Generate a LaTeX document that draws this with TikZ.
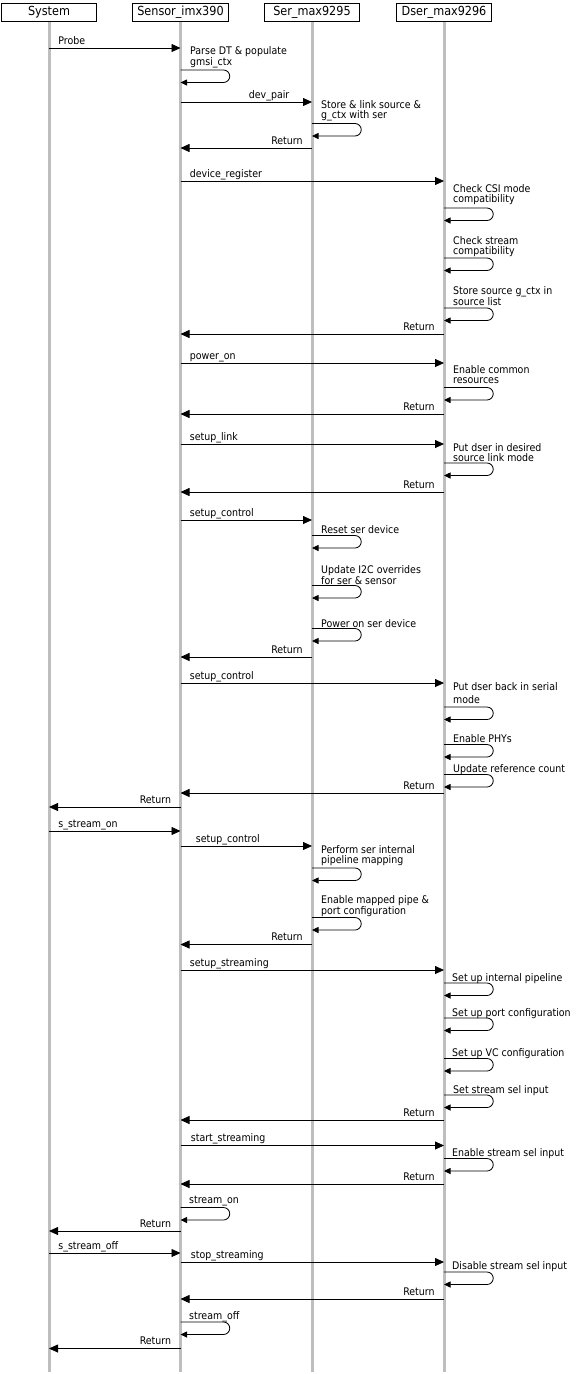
\documentclass[tikz,border=0pt]{standalone}
\usepackage{fontspec}
\setmainfont{DejaVu Sans Condensed}
\usetikzlibrary{arrows.meta}
\definecolor{Lgray}{RGB}{190,190,190}

\begin{document}
\begin{tikzpicture}[x=1pt,y=-1pt,
  head/.style={draw,line width=0.8pt,minimum width=95.5pt,minimum height=18pt,inner sep=0pt,font=\fontsize{12.5}{13}\selectfont},
  lifeline/.style={draw=Lgray,line width=3pt},
  call/.style={line width=0.8pt,-{Triangle[length=9pt,width=8pt]}},
  selfcall/.style={line width=0.8pt,-{Triangle[length=6.5pt,width=6pt]}},
  calltext/.style={anchor=base west,inner sep=0pt,xshift=9pt,yshift=4pt,font=\fontsize{10.5}{10}\selectfont},
  rettext/.style={anchor=base east,inner sep=0pt,xshift=-9pt,yshift=4pt,font=\fontsize{10.5}{10}\selectfont},
  selftext/.style={anchor=north west,inner sep=0pt,align=left,font=\fontsize{10.5}{10}\selectfont}]
\path[use as bounding box] (0,0) rectangle (577,1374);
% participants
\node[head] (sys) at (49,12.5) {System};
\node[head] (sen) at (180.5,12.5) {Sensor\_imx390};
\node[head] (ser) at (312,12.5) {Ser\_max9295};
\node[head] (dse) at (444,12.5) {Dser\_max9296};
\foreach \n in {sys,sen,ser,dse}
  \draw[lifeline] (\n.south) -- (\n |- 0,1372);
% probe
\draw[call] (sys |- 0,48) -- node[calltext,pos=0] (l1) {Probe} (sen |- 0,48);
\node[selftext] (s1) at (190,46.5) {Parse DT \& populate\\gmsi\_ctx};
\draw[selfcall] (sen |- 0,70) -- ++(43,0) arc[start angle=-90,end angle=90,radius=6.25] -- (sen |- 0,82.5);
\draw[call] (sen |- 0,102) -- node[calltext,pos=0,xshift=59pt] (l2) {dev\_pair} (ser |- 0,102);
\node[selftext] (s2) at (321,100.5) {Store \& link source \&\\g\_ctx with ser};
\draw[selfcall] (ser |- 0,123.5) -- ++(43,0) arc[start angle=-90,end angle=90,radius=6.25] -- (ser |- 0,136);
\draw[call] (ser |- 0,148) -- node[rettext,pos=0] (l3) {Return} (sen |- 0,148);
% device register
\draw[call] (sen |- 0,181) -- node[calltext,pos=0] (l4) {device\_register} (dse |- 0,181);
\node[selftext] (s3) at (453,184.5) {Check CSI mode\\compatibility};
\draw[selfcall] (dse |- 0,208) -- ++(43,0) arc[start angle=-90,end angle=90,radius=6.25] -- (dse |- 0,220.5);
\node[selftext] (s4) at (453,236) {Check stream\\compatibility};
\draw[selfcall] (dse |- 0,258) -- ++(43,0) arc[start angle=-90,end angle=90,radius=6.25] -- (dse |- 0,270.5);
\node[selftext] (s5) at (453,286) {Store source g\_ctx in\\source list};
\draw[selfcall] (dse |- 0,308) -- ++(43,0) arc[start angle=-90,end angle=90,radius=6.25] -- (dse |- 0,320.5);
\draw[call] (dse |- 0,334) -- node[rettext,pos=0] (l5) {Return} (sen |- 0,334);
% power on
\draw[call] (sen |- 0,363) -- node[calltext,pos=0] (l6) {power\_on} (dse |- 0,363);
\node[selftext] (s6) at (453,365) {Enable common\\resources};
\draw[selfcall] (dse |- 0,387.5) -- ++(43,0) arc[start angle=-90,end angle=90,radius=6.25] -- (dse |- 0,400);
\draw[call] (dse |- 0,414) -- node[rettext,pos=0] (l7) {Return} (sen |- 0,414);
% link
\draw[call] (sen |- 0,444) -- node[calltext,pos=0] (l8) {setup\_link} (dse |- 0,444);
\node[selftext] (s7) at (453,443) {Put dser in desired\\source link mode};
\draw[selfcall] (dse |- 0,463) -- ++(43,0) arc[start angle=-90,end angle=90,radius=6.25] -- (dse |- 0,475.5);
\draw[call] (dse |- 0,492) -- node[rettext,pos=0] (l9) {Return} (sen |- 0,492);
% control
\draw[call] (sen |- 0,520) -- node[calltext,pos=0] (l10) {setup\_control} (ser |- 0,520);
\node[selftext] (s8) at (321,525) {Reset ser device};
\draw[selfcall] (ser |- 0,535.5) -- ++(43,0) arc[start angle=-90,end angle=90,radius=6.25] -- (ser |- 0,548);
\node[selftext] (s9) at (321,565) {Update I2C overrides\\for ser \& sensor};
\draw[selfcall] (ser |- 0,585.5) -- ++(43,0) arc[start angle=-90,end angle=90,radius=6.25] -- (ser |- 0,598);
\node[selftext] (s10) at (321,619) {Power on ser device};
\draw[selfcall] (ser |- 0,628.5) -- ++(43,0) arc[start angle=-90,end angle=90,radius=6.25] -- (ser |- 0,641);
\draw[call] (ser |- 0,657) -- node[rettext,pos=0] (l11) {Return} (sen |- 0,657);
\draw[call] (sen |- 0,683) -- node[calltext,pos=0] (l12) {setup\_control} (dse |- 0,683);
\node[selftext] (s11) at (453,682.5) {Put dser back in serial\\[3pt]mode};
\draw[selfcall] (dse |- 0,707) -- ++(43,0) arc[start angle=-90,end angle=90,radius=6.25] -- (dse |- 0,719.5);
\node[selftext] (s12) at (453,734) {Enable PHYs};
\draw[selfcall] (dse |- 0,744.5) -- ++(43,0) arc[start angle=-90,end angle=90,radius=6.25] -- (dse |- 0,757);
\node[selftext] (s13) at (453,764) {Update reference count};
\draw[selfcall] (dse |- 0,774.5) -- ++(43,0) arc[start angle=-90,end angle=90,radius=6.25] -- (dse |- 0,787);
\draw[call] (dse |- 0,793) -- node[rettext,pos=0] (l13) {Return} (sen |- 0,793);
\draw[call] (sen |- 0,807) -- node[rettext,pos=0] (l14) {Return} (sys |- 0,807);
% stream on
\draw[call] (sys |- 0,831) -- node[calltext,pos=0] (l15) {s\_stream\_on} (sen |- 0,831);
\draw[call] (sen |- 0,846) -- node[calltext,pos=0,xshift=6pt] (l16) {setup\_control} (ser |- 0,846);
\node[selftext] (s14) at (321,845.5) {Perform ser internal\\pipeline mapping};
\draw[selfcall] (ser |- 0,868) -- ++(43,0) arc[start angle=-90,end angle=90,radius=6.25] -- (ser |- 0,880.5);
\node[selftext] (s15) at (321,895) {Enable mapped pipe \&\\port configuration};
\draw[selfcall] (ser |- 0,917.5) -- ++(43,0) arc[start angle=-90,end angle=90,radius=6.25] -- (ser |- 0,930);
\draw[call] (ser |- 0,944.5) -- node[rettext,pos=0] (l17) {Return} (sen |- 0,944.5);
\draw[call] (sen |- 0,970) -- node[calltext,pos=0] (l18) {setup\_streaming} (dse |- 0,970);
\node[selftext] (s16) at (452,973) {Set up internal pipeline};
\draw[selfcall] (dse |- 0,983) -- ++(43,0) arc[start angle=-90,end angle=90,radius=6.25] -- (dse |- 0,995.5);
\node[selftext] (s17) at (452,1008) {Set up port configuration};
\draw[selfcall] (dse |- 0,1018) -- ++(43,0) arc[start angle=-90,end angle=90,radius=6.25] -- (dse |- 0,1030.5);
\node[selftext] (s18) at (452,1048) {Set up VC configuration};
\draw[selfcall] (dse |- 0,1058.5) -- ++(43,0) arc[start angle=-90,end angle=90,radius=6.25] -- (dse |- 0,1071);
\node[selftext] (s19) at (453,1085) {Set stream sel input};
\draw[selfcall] (dse |- 0,1095) -- ++(43,0) arc[start angle=-90,end angle=90,radius=6.25] -- (dse |- 0,1107.5);
\draw[call] (dse |- 0,1120) -- node[rettext,pos=0] (l19) {Return} (sen |- 0,1120);
\draw[call] (sen |- 0,1145.5) -- node[calltext,pos=0,xshift=1pt] (l20) {start\_streaming} (dse |- 0,1145.5);
\node[selftext] (s20) at (452,1148) {Enable stream sel input};
\draw[selfcall] (dse |- 0,1158.5) -- ++(43,0) arc[start angle=-90,end angle=90,radius=6.25] -- (dse |- 0,1171);
\draw[call] (dse |- 0,1184) -- node[rettext,pos=0] (l21) {Return} (sen |- 0,1184);
\node[selftext] (s21) at (189,1196) {stream\_on};
\draw[selfcall] (sen |- 0,1207.5) -- ++(43,0) arc[start angle=-90,end angle=90,radius=6.25] -- (sen |- 0,1220);
\draw[call] (sen |- 0,1231) -- node[rettext,pos=0] (l22) {Return} (sys |- 0,1231);
% stream off
\draw[call] (sys |- 0,1253) -- node[calltext,pos=0] (l23) {s\_stream\_off} (sen |- 0,1253);
\draw[call] (sen |- 0,1262) -- node[calltext,pos=0,xshift=1pt] (l24) {stop\_streaming} (dse |- 0,1262);
\node[selftext] (s22) at (452,1261.5) {Disable stream sel input};
\draw[selfcall] (dse |- 0,1272) -- ++(43,0) arc[start angle=-90,end angle=90,radius=6.25] -- (dse |- 0,1284.5);
\draw[call] (dse |- 0,1299) -- node[rettext,pos=0] (l25) {Return} (sen |- 0,1299);
\node[selftext] (s23) at (189,1311) {stream\_off};
\draw[selfcall] (sen |- 0,1322) -- ++(43,0) arc[start angle=-90,end angle=90,radius=6.25] -- (sen |- 0,1334.5);
\draw[call] (sen |- 0,1348.5) -- node[rettext,pos=0] (l26) {Return} (sys |- 0,1348.5);
\end{tikzpicture}
\end{document}
